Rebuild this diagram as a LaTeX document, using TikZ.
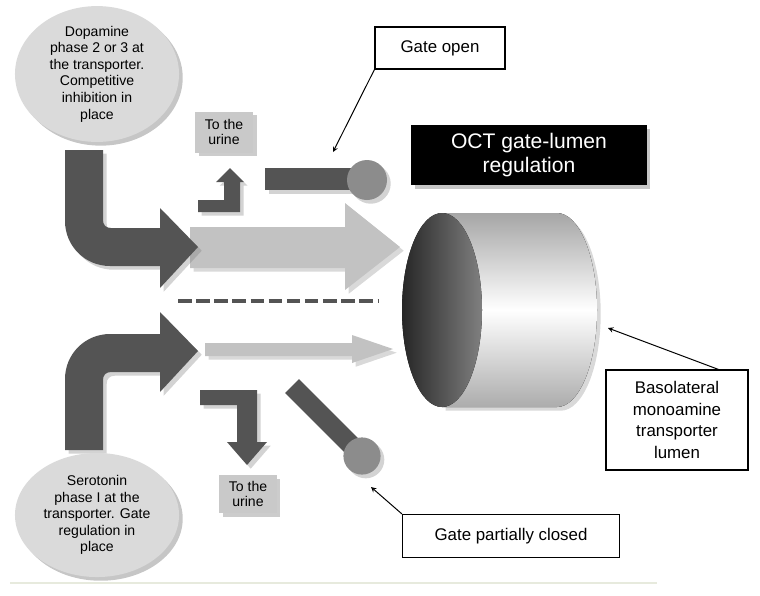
\documentclass[tikz,border=0pt]{standalone}
\usepackage{fontspec}
\setmainfont{Liberation Sans}
\usetikzlibrary{shapes.geometric,shadows}
\definecolor{pipegray}{HTML}{545454}
\definecolor{flowgray}{HTML}{C2C2C2}
\definecolor{bubblegray}{HTML}{DADADA}
\definecolor{taggray}{HTML}{C9C9C9}
\definecolor{knobgray}{HTML}{8C8C8C}
\definecolor{rulegreen}{HTML}{E7EADD}
\tikzset{
  pipe/.style    = { fill=pipegray, drop shadow={opacity=0.35} },
  flow/.style    = { fill=flowgray, drop shadow={opacity=0.3} },
  gatebar/.style = { pipegray, line width=14pt },
  knob/.style    = { circle, fill=knobgray, inner sep=0pt, drop shadow={opacity=0.35} },
  divider/.style = { pipegray, line width=2.8pt, dash pattern=on 9.6pt off 3.3pt },
  bubble/.style  = { ellipse, fill=bubblegray, inner sep=0pt, align=center,
                     font=\fontsize{10}{11.8}\selectfont, drop shadow={opacity=0.45} },
  tag/.style     = { rectangle, fill=taggray, inner sep=0pt, align=center,
                     font=\fontsize{10}{11.3}\selectfont, drop shadow={opacity=0.4} },
  notice/.style  = { draw, line width=0.8pt, fill=white, inner sep=0pt, align=center,
                     font=\fontsize{12}{15.5}\selectfont },
  title/.style   = { fill=black, text=white, inner sep=0pt, align=center,
                     font=\fontsize{15}{17.7}\selectfont, drop shadow={opacity=0.45} },
  pointer/.style = { -stealth, line width=0.7pt }
}
\begin{document}
\begin{tikzpicture}[x=0.025cm,y=-0.025cm]
  \useasboundingbox (0,0) rectangle (760,595);
  % Draw flows to the lumen
  \fill[flow] (190,227) -- (345,227) -- (345,203) -- (400,247) -- (345,290) -- (345,268) -- (190,268) -- cycle;
  \fill[flow] (205,343) -- (352,343) -- (352,335) -- (393,349) -- (352,363) -- (352,356) -- (205,356) -- cycle;
  % Draw bent pipes
  \fill[pipe] (65,150) -- (65,221) .. controls (65,246) and (85,266) .. (110,266) -- (160,266) -- (160,288)
    -- (198,247) -- (160,208) -- (160,228) -- (111,228) .. controls (106,228) and (103,225) .. (103,220) -- (103,150) -- cycle;
  \fill[pipe] (65,450) -- (65,379) .. controls (65,354) and (85,334) .. (110,334) -- (160,334) -- (160,312)
    -- (198,351) -- (160,392) -- (160,372) -- (111,372) .. controls (106,372) and (103,375) .. (103,380) -- (103,450) -- cycle;
  % Draw urine branches
  \fill[pipe] (198,200) -- (224,200) -- (224,182) -- (216,182) -- (230,168) -- (244,182) -- (240,182)
    -- (240,212) -- (198,212) -- cycle;
  \fill[pipe] (200,390) -- (257,390) -- (257,442) -- (267,442) -- (247,465) -- (227,442) -- (237,442)
    -- (237,405) -- (200,405) -- cycle;
  % Draw divider
  \draw[divider] (178,301) -- (378,301);
  % Draw gates
  \fill[pipe] (265,168) rectangle (355,190);
  \node[knob, minimum size=1cm] (openknob) at (367,180) {};
  \coordinate (closedhinge) at (292,386);
  \coordinate (closedend) at (362,456);
  \draw[gatebar, drop shadow={opacity=0.35}] (closedhinge) -- (closedend);
  \node[knob, minimum size=0.93cm] (closedknob) at (closedend) {};
  % Draw lumen
  \fill[top color=gray!70, bottom color=gray!65, middle color=white, drop shadow={opacity=0.3}]
    (442,213) -- (557,213) .. controls (579,213) and (597,256) .. (597,310)
    .. controls (597,364) and (579,407) .. (557,407) -- (442,407) -- cycle;
  \fill[left color=black!85, right color=black!50] (442,310) ellipse [x radius=40, y radius=97];
  % Draw labels
  \node[bubble, minimum width=4.1cm, minimum height=2.95cm] (dopamine) at (97,74)
    {Dopamine\\phase 2 or 3 at\\the transporter.\\Competitive\\inhibition in\\place};
  \node[bubble, minimum width=4.1cm, minimum height=3.1cm] (serotonin) at (97,515)
    {Serotonin\\phase I at the\\transporter. Gate\\regulation in\\place};
  \node[tag, minimum width=1.45cm, minimum height=1.025cm] (urineup) at (224,132) {To the\\urine};
  \node[tag, minimum width=1.425cm, minimum height=0.95cm] (urinedown) at (248,494) {To the\\urine};
  \node[title, minimum width=5.875cm, minimum height=1.5cm] (octbox) at (529,155) {OCT gate-lumen\\regulation};
  \node[notice, minimum width=3.25cm, minimum height=1.05cm] (openbox) at (440,48) {Gate open};
  \node[notice, minimum width=5.425cm, minimum height=1.075cm] (closedbox) at (511,536) {Gate partially closed};
  \node[notice, minimum width=3.55cm, minimum height=2.5cm] (lumenbox) at (677,420)
    {Basolateral\\monoamine\\transporter\\lumen};
  % Draw annotations
  \coordinate (opentip) at (333,152);
  \coordinate (closedtip) at (371,487);
  \coordinate (lumenfoot) at (720,370);
  \coordinate (lumentip) at (608,328);
  \draw[pointer] (openbox.south west) -- (opentip);
  \draw[pointer] (closedbox.north west) -- (closedtip);
  \draw[pointer] (lumenfoot) -- (lumentip);
  \draw[rulegreen, line width=1pt] (10,583) -- (657,583);
\end{tikzpicture}
\end{document}
